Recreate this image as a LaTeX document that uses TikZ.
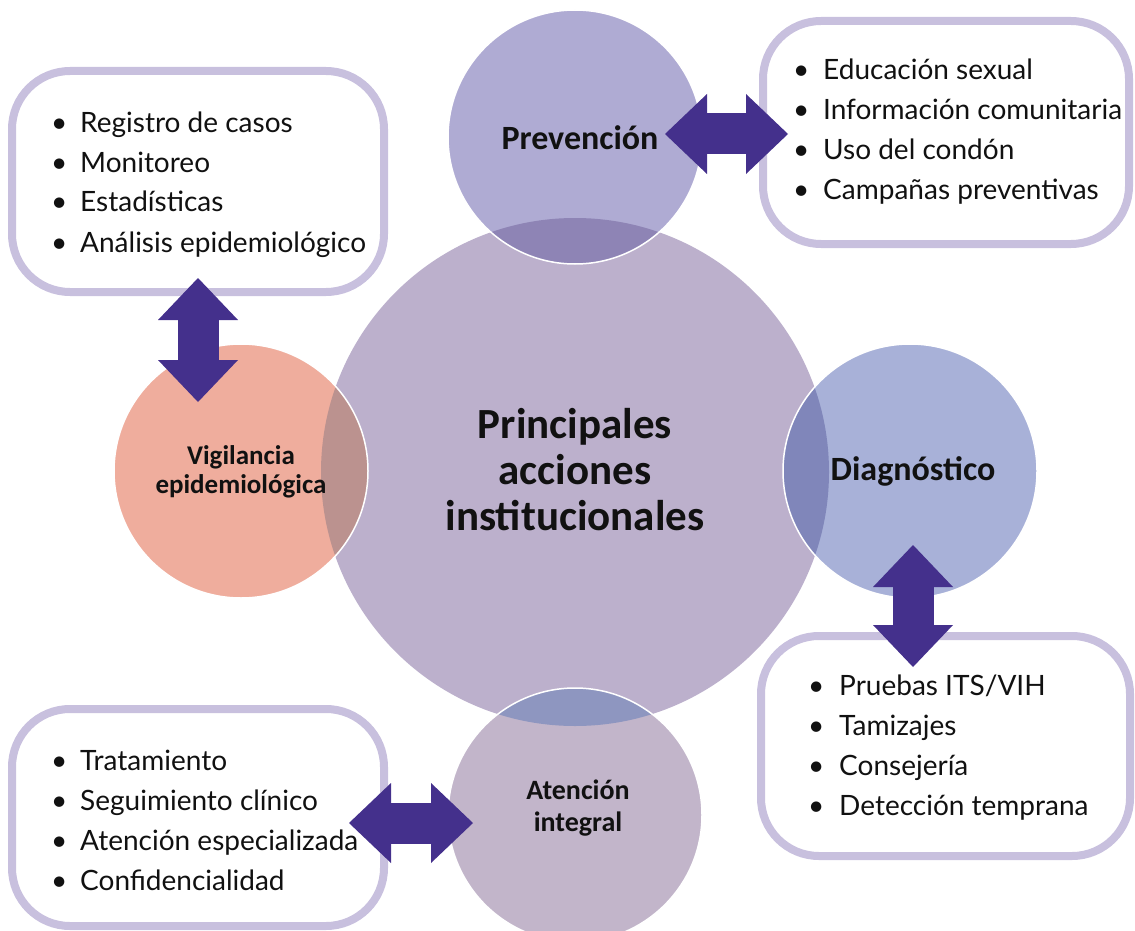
\documentclass[tikz,border=0pt]{standalone}
\usepackage{fontspec}
\setmainfont{Lato}
\newfontfamily\calib{Carlito}
\usetikzlibrary{arrows.meta}
\definecolor{cenc}{HTML}{BCB0CC}
\definecolor{prevc}{HTML}{AFABD3}
\definecolor{diagc}{HTML}{A8B1D8}
\definecolor{vigc}{HTML}{EFAD9D}
\definecolor{atenc}{HTML}{C2B5CA}
\definecolor{prevo}{HTML}{8E84B5}
\definecolor{diago}{HTML}{8086BA}
\definecolor{vigo}{HTML}{BB928F}
\definecolor{ateno}{HTML}{8E96C0}
\definecolor{boxc}{HTML}{C8C0DE}
\definecolor{arrc}{HTML}{44308C}
\definecolor{txtc}{HTML}{111111}
\newcommand\bl[1]{\makebox[#1][l]{\textbullet}}
\begin{document}
\begin{tikzpicture}[x=1pt,y=-1pt,
  bigc/.style={circle,inner sep=0pt,minimum size=508pt,fill=cenc},
  smallc/.style={circle,inner sep=0pt,minimum size=254pt},
  lbl/.style={font=\calib\bfseries,text=txtc,align=center,inner sep=0pt},
  lbox/.style={draw=boxc,line width=8pt,rounded corners=58pt,fill=white,inner sep=0pt},
  ltext/.style={font=\fontsize{28}{40}\selectfont,text=txtc,inner sep=0pt,anchor=base west},
  dbl/.style={draw=arrc,line width=41pt,
    {Triangle[length=42pt,width=80pt,line width=0pt]}-{Triangle[length=42pt,width=80pt,line width=0pt]}}]
\useasboundingbox (0,0) rectangle (1135,931);
% circles
\node[bigc] (cen) at (575,472) {};
\node[smallc,fill=prevc] (prev) at (575,137) {};
\node[smallc,fill=diagc] (diag) at (910,471) {};
\node[smallc,fill=vigc] (vig) at (241,471) {};
\node[smallc,fill=atenc] (aten) at (575,815) {};
% overlaps
\begin{scope}
  \clip (575,137) circle[radius=127pt];
  \fill[prevo] (575,472) circle[radius=254pt];
\end{scope}
\begin{scope}
  \clip (910,471) circle[radius=127pt];
  \fill[diago] (575,472) circle[radius=254pt];
\end{scope}
\begin{scope}
  \clip (241,471) circle[radius=127pt];
  \fill[vigo] (575,472) circle[radius=254pt];
\end{scope}
\begin{scope}
  \clip (575,815) circle[radius=127pt];
  \fill[ateno] (575,472) circle[radius=254pt];
\end{scope}
\foreach \p in {(575,137),(910,471),(241,471),(575,815)}
  \draw[white,line width=1.5pt] \p circle[radius=127pt];
% labels
\node[lbl,font=\calib\bfseries\fontsize{43}{46}\selectfont] (tcen) at (575,470) {Principales\\acciones\\institucionales};
\node[lbl,font=\calib\bfseries\fontsize{34}{38}\selectfont] (tprev) at (580,138) {Prevención};
\node[lbl,font=\calib\bfseries\fontsize{34}{38}\selectfont] (tdiag) at (913,471) {Diagnóstico};
\node[lbl,font=\calib\bfseries\fontsize{27}{29}\selectfont] (tvig) at (241,472) {Vigilancia\\epidemiológica};
\node[lbl,font=\calib\bfseries\fontsize{28}{32}\selectfont] (taten) at (578,808) {Atención\\integral};
% boxes
\node[lbox,minimum width=372pt,minimum height=221pt] (bvig) at (198,181.5) {};
\node[lbox,minimum width=366pt,minimum height=223pt] (bprev) at (946,132.5) {};
\node[lbox,minimum width=369pt,minimum height=220pt] (bdiag) at (945.5,746) {};
\node[lbox,minimum width=372pt,minimum height=217pt] (baten) at (198,817.5) {};
% lists
\node[ltext] (lvig) at (51,132) {\begin{tabular}[t]{@{}l@{}}\bl{29pt}Registro de casos\\\bl{29pt}Monitoreo\\\bl{29pt}Estadísticas\\\bl{29pt}Análisis epidemiológico\end{tabular}};
\node[ltext] (lprev) at (793,80) {\begin{tabular}[t]{@{}l@{}}\bl{30pt}Educación sexual\\\bl{30pt}Información comunitaria\\\bl{30pt}Uso del condón\\\bl{30pt}Campañas preventivas\end{tabular}};
\node[ltext] (ldiag) at (808,695) {\begin{tabular}[t]{@{}l@{}}\bl{31pt}Pruebas ITS/VIH\\\bl{31pt}Tamizajes\\\bl{31pt}Consejería\\\bl{31pt}Detección temprana\end{tabular}};
\node[ltext] (laten) at (51,770) {\begin{tabular}[t]{@{}l@{}}\bl{29pt}Tratamiento\\\bl{29pt}Seguimiento clínico\\\bl{29pt}Atención especializada\\\bl{29pt}Confidencialidad\end{tabular}};
% arrows
\coordinate (a1) at (665,134);
\coordinate (a2) at (788,134);
\coordinate (b1) at (198,278);
\coordinate (b2) at (198,402);
\coordinate (c1) at (913,545);
\coordinate (c2) at (913,667);
\coordinate (d1) at (349,823);
\coordinate (d2) at (473,823);
\draw[dbl] (a1) -- (a2);
\draw[dbl] (b1) -- (b2);
\draw[dbl] (c1) -- (c2);
\draw[dbl] (d1) -- (d2);
\end{tikzpicture}
\end{document}
